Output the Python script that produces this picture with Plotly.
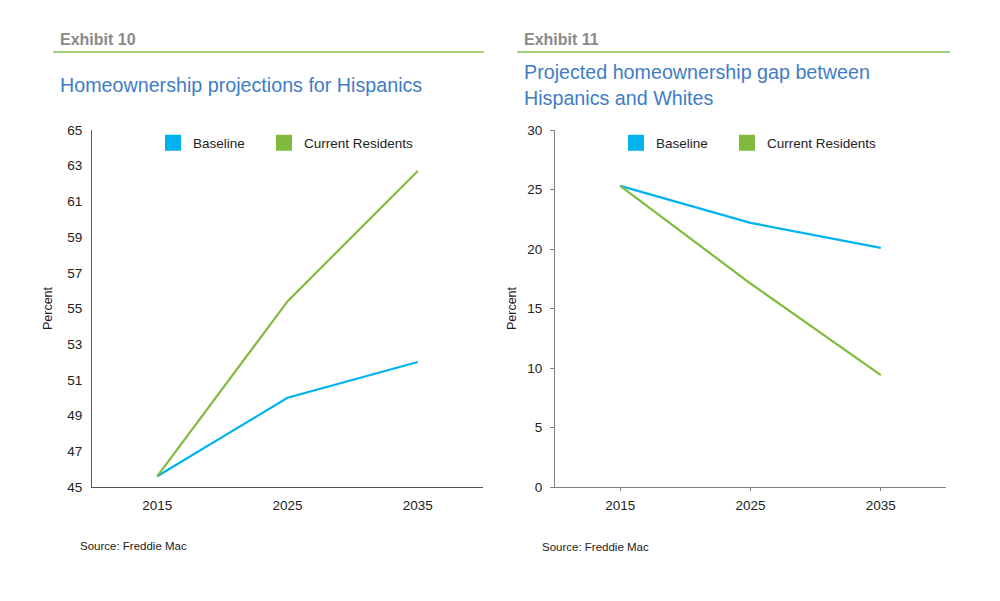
import plotly.graph_objects as go

years = ["2015", "2025", "2035"]
hisp_baseline = [45.6, 50.0, 52.0]
hisp_current = [45.6, 55.4, 62.7]
gap_baseline = [25.3, 22.2, 20.1]
gap_current = [25.3, 17.1, 9.4]
series_names = ["Baseline", "Current Residents"]

BLUE = "#00b2ee"
GREEN = "#80bb3d"
TITLE_BLUE = "#3f7cc6"
GRAY = "#8a8a8a"
RULE = "#86c049"
AXIS_L = "#555555"
AXIS_R = "#808080"
FONT = "Liberation Sans, Arial, sans-serif"

fig = go.Figure()

fig.add_trace(go.Scatter(x=years, y=hisp_baseline, mode="lines", line=dict(color=BLUE, width=2.2),
                         showlegend=False, xaxis="x", yaxis="y"))
fig.add_trace(go.Scatter(x=years, y=hisp_current, mode="lines", line=dict(color=GREEN, width=2.2),
                         showlegend=False, xaxis="x", yaxis="y"))
fig.add_trace(go.Scatter(x=years, y=gap_baseline, mode="lines", line=dict(color=BLUE, width=2.2),
                         showlegend=False, xaxis="x2", yaxis="y2"))
fig.add_trace(go.Scatter(x=years, y=gap_current, mode="lines", line=dict(color=GREEN, width=2.2),
                         showlegend=False, xaxis="x2", yaxis="y2"))

# legend swatches: one legend per entry so each can be placed like the original
legend_ids = [["legend", "legend2"], ["legend3", "legend4"]]
axes_pairs = [("x", "y"), ("x2", "y2")]
for (xa, ya), ids in zip(axes_pairs, legend_ids):
    for name, col, lid in zip(series_names, [BLUE, GREEN], ids):
        fig.add_trace(go.Scatter(x=[None], y=[None], mode="markers", name=name,
                                 marker=dict(symbol="square", size=18, color=col),
                                 xaxis=xa, yaxis=ya, legend=lid))

ydom = [1 - 487 / 601, 1 - 130 / 601]
xcommon = dict(type="category", range=[-0.5, 2.5], showline=True, linewidth=1,
               showgrid=False, zeroline=False, automargin=False,
               tickfont=dict(size=13.5, color="#222"))
ycommon = dict(showline=True, linewidth=1, showgrid=False, zeroline=False,
               automargin=False, tickfont=dict(size=13.5, color="#222"))

leg_common = dict(orientation="h", yanchor="middle", xanchor="left", bgcolor="rgba(0,0,0,0)",
                  font=dict(size=13.5, color="#222"), itemclick=False, itemdoubleclick=False,
                  y=1 - 143 / 601)

fig.update_layout(
    width=1000, height=601,
    margin=dict(l=0, r=0, t=0, b=0, pad=0, autoexpand=False),
    paper_bgcolor="white", plot_bgcolor="white",
    font=dict(family=FONT, color="#222"),
    xaxis=dict(domain=[92 / 1000, 483 / 1000], anchor="y", ticks="", linecolor=AXIS_L,
               ticklabelstandoff=6, **xcommon),
    yaxis=dict(domain=ydom, anchor="x", range=[45, 65], tick0=45, dtick=2, ticks="",
               linecolor=AXIS_L, ticklabelstandoff=6,
               title=dict(text="Percent", font=dict(size=12.5, color="#222"), standoff=11),
               **ycommon),
    xaxis2=dict(domain=[555 / 1000, 946 / 1000], anchor="y2", ticks="outside", ticklen=3,
                tickcolor=AXIS_R, linecolor=AXIS_R, ticklabelstandoff=3, **xcommon),
    yaxis2=dict(domain=ydom, anchor="x2", range=[0, 30], dtick=5, ticks="outside", ticklen=4,
                tickcolor=AXIS_R, linecolor=AXIS_R, ticklabelstandoff=5,
                title=dict(text="Percent", font=dict(size=12.5, color="#222"), standoff=7),
                **ycommon),
    legend=dict(x=0.153, **leg_common),
    legend2=dict(x=0.264, **leg_common),
    legend3=dict(x=0.616, **leg_common),
    legend4=dict(x=0.727, **leg_common),
)

fig.add_annotation(text="<b>Exhibit 10</b>", x=58 / 1000, y=1 - 40 / 601, xref="paper", yref="paper",
                   xanchor="left", yanchor="middle", showarrow=False, font=dict(size=16, color=GRAY))
fig.add_annotation(text="<b>Exhibit 11</b>", x=522 / 1000, y=1 - 40 / 601, xref="paper", yref="paper",
                   xanchor="left", yanchor="middle", showarrow=False, font=dict(size=16, color=GRAY))
fig.add_shape(type="line", xref="paper", yref="paper", x0=53 / 1000, x1=484 / 1000,
              y0=1 - 52 / 601, y1=1 - 52 / 601, line=dict(color=RULE, width=1.5))
fig.add_shape(type="line", xref="paper", yref="paper", x0=517 / 1000, x1=950 / 1000,
              y0=1 - 52 / 601, y1=1 - 52 / 601, line=dict(color=RULE, width=1.5))

fig.add_annotation(text="Homeownership projections for Hispanics", x=58 / 1000, y=1 - 85 / 601,
                   xref="paper", yref="paper", xanchor="left", yanchor="middle", showarrow=False,
                   font=dict(size=19.7, color=TITLE_BLUE))
fig.add_annotation(text="Projected homeownership gap between<br>Hispanics and Whites", x=522 / 1000,
                   y=1 - 85 / 601, xref="paper", yref="paper", xanchor="left", yanchor="middle",
                   showarrow=False, align="left", font=dict(size=19.7, color=TITLE_BLUE))

fig.add_annotation(text="Source: Freddie Mac", x=78 / 1000, y=1 - 546 / 601, xref="paper", yref="paper",
                   xanchor="left", yanchor="middle", showarrow=False, font=dict(size=11.5, color="#222"))
fig.add_annotation(text="Source: Freddie Mac", x=540 / 1000, y=1 - 547 / 601, xref="paper", yref="paper",
                   xanchor="left", yanchor="middle", showarrow=False, font=dict(size=11.5, color="#222"))

fig.write_html("out.html", config={"displayModeBar": False},
               post_script="document.body.style.margin='0';document.body.style.overflow='hidden';")
